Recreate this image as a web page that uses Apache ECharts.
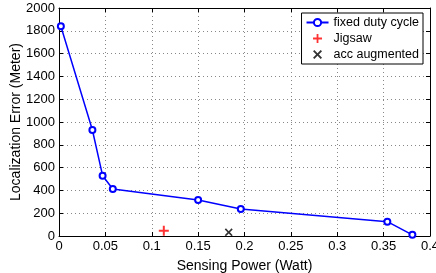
<!DOCTYPE html>
<html>
<head>
<meta charset="utf-8">
<script src="https://cdn.jsdelivr.net/npm/echarts@6/dist/echarts.min.js"></script>
<style>
  html, body { margin: 0; padding: 0; background: #fff; }
  #chart { width: 436px; height: 273px; }
</style>
</head>
<body>
<div id="chart"></div>
<script>
// data
var powerFixed = [0.002, 0.036, 0.047, 0.058, 0.150, 0.196, 0.354, 0.381];
var errorFixed = [1840, 930, 529, 412, 316, 237, 126, 10];
var jigsawPoint = [0.113, 47];
var accPoint = [0.183, 32];

var plusIcon = 'path://M4,0H6V4H10V6H6V10H4V6H0V4H4Z';
var crossIcon = 'path://M1.5,0L5,3.5L8.5,0L10,1.5L6.5,5L10,8.5L8.5,10L5,6.5L1.5,10L0,8.5L3.5,5L0,1.5Z';

var fontName = 'Liberation Sans, Arial, sans-serif';

var chart = echarts.init(document.getElementById('chart'));

function xAx(pos, showLabel) {
    return {
        type: 'value', position: pos, min: 0, max: 0.4, interval: 0.05,
        axisLine: { show: true, onZero: false, lineStyle: { color: '#000', width: 1 } },
        axisTick: { show: true, inside: true, length: 4, lineStyle: { color: '#000' } },
        axisLabel: {
            show: showLabel, color: '#000', fontSize: 13, fontFamily: fontName, margin: 4,
            formatter: function (v) { return String(+v.toFixed(2)); }
        },
        splitLine: { show: showLabel, lineStyle: { color: '#888', type: [1, 3], width: 1 } },
        name: showLabel ? 'Sensing Power (Watt)' : '',
        nameLocation: 'middle', nameGap: 23, nameMoveOverlap: false,
        nameTextStyle: { color: '#000', fontSize: 14, fontFamily: fontName }
    };
}
function yAx(pos, showLabel) {
    return {
        type: 'value', position: pos, min: 0, max: 2000, interval: 200,
        axisLine: { show: true, onZero: false, lineStyle: { color: '#000', width: 1 } },
        axisTick: { show: true, inside: true, length: 4, lineStyle: { color: '#000' } },
        axisLabel: {
            show: showLabel, color: '#000', fontSize: 13, fontFamily: fontName, margin: 4,
            formatter: function (v) { return String(v); }
        },
        splitLine: { show: showLabel, lineStyle: { color: '#888', type: [1, 3], width: 1 } },
        name: showLabel ? 'Localization Error (Meter)' : '',
        nameLocation: 'middle', nameGap: 36, nameMoveOverlap: false,
        nameTextStyle: { color: '#000', fontSize: 14, fontFamily: fontName }
    };
}

var option = {
    animation: false,
    backgroundColor: '#fff',
    grid: { left: 59, right: 6, top: 8, bottom: 37, outerBoundsMode: 'none', containLabel: false },
    xAxis: [xAx('bottom', true), xAx('top', false)],
    yAxis: [yAx('left', true), yAx('right', false)],
    legend: {
        orient: 'vertical', right: 13, top: 13,
        backgroundColor: '#fff', borderColor: '#000', borderWidth: 1,
        padding: [3, 4, 3, 4], itemGap: 3, itemWidth: 22, itemHeight: 9,
        textStyle: { color: '#000', fontSize: 12.5, fontFamily: fontName },
        data: [
            { name: 'fixed duty cycle' },
            { name: 'Jigsaw', icon: plusIcon, itemStyle: { color: '#f00' } },
            { name: 'acc augmented', icon: crossIcon, itemStyle: { color: '#000' } }
        ]
    },
    series: [
        {
            name: 'fixed duty cycle', type: 'line',
            data: powerFixed.map(function (p, i) { return [p, errorFixed[i]]; }),
            symbol: 'emptyCircle', symbolSize: 6,
            lineStyle: { color: '#00f', width: 1.5 },
            itemStyle: { color: '#00f', borderColor: '#00f', borderWidth: 1.5 }
        },
        {
            name: 'Jigsaw', type: 'scatter', data: [jigsawPoint],
            symbol: plusIcon, symbolSize: 10, itemStyle: { color: '#f00' }
        },
        {
            name: 'acc augmented', type: 'scatter', data: [accPoint],
            symbol: crossIcon, symbolSize: 8, itemStyle: { color: '#000' }
        }
    ]
};

chart.setOption(option);
</script>
</body>
</html>
